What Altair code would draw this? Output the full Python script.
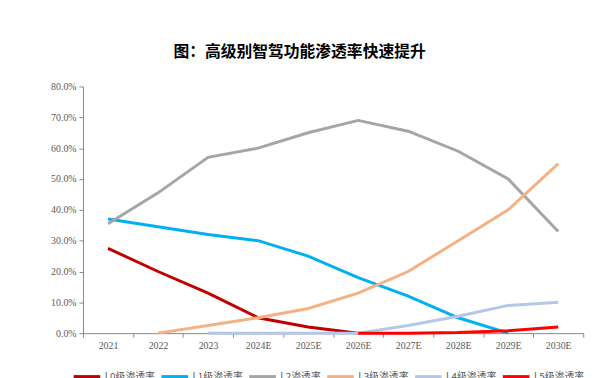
import altair as alt
import pandas as pd

years = ["2021", "2022", "2023", "2024E", "2025E", "2026E", "2027E", "2028E", "2029E", "2030E"]
series = ["L0级渗透率", "L1级渗透率", "L2渗透率", "L3级渗透率", "L4级渗透率", "L5级渗透率"]
colors = ["#C00000", "#00B0F0", "#A5A5A5", "#F4B183", "#B4C7E7", "#FF0000"]

l0 = [27.5, 20.0, 13.0, 5.0, 2.0, 0.0, None, None, None, None]
l1 = [37.0, 34.5, 32.0, 30.0, 25.0, 18.0, 12.0, 5.0, 0.0, None]
l2 = [35.5, 45.5, 57.0, 60.0, 65.0, 69.0, 65.5, 59.0, 50.0, 33.0]
l3 = [None, 0.0, 2.5, 5.0, 8.0, 13.0, 20.0, 30.0, 40.0, 55.0]
l4 = [None, None, 0.0, 0.0, 0.0, 0.0, 2.5, 5.5, 9.0, 10.0]
l5 = [None, None, None, None, None, 0.0, 0.0, 0.2, 0.8, 2.0]

rows = []
for name, vals in zip(series, [l0, l1, l2, l3, l4, l5]):
    for i, (y, v) in enumerate(zip(years, vals)):
        if v is not None:
            rows.append({"year": y, "series": name, "value": v / 100.0, "order": series.index(name)})
df = pd.DataFrame(rows)

chart = alt.Chart(df).mark_line(strokeWidth=3).encode(
    x=alt.X("year:O", sort=years, title=None,
            scale=alt.Scale(type="band", paddingInner=0, paddingOuter=0),
            axis=alt.Axis(labelAngle=0, tickBand="extent", tickSize=4, domainColor="#868686",
                          tickColor="#868686", labelColor="#595959", labelFont="Liberation Serif",
                          labelFontSize=10, labelPadding=4)),
    y=alt.Y("value:Q", title=None,
            scale=alt.Scale(domain=[0, 0.8], nice=False),
            axis=alt.Axis(format=".1%", values=[0, 0.1, 0.2, 0.3, 0.4, 0.5, 0.6, 0.7, 0.8], grid=False,
                          tickSize=4, domainColor="#868686", tickColor="#868686",
                          labelColor="#595959", labelFont="Liberation Serif", labelFontSize=10,
                          labelPadding=3)),
    color=alt.Color("series:N", scale=alt.Scale(domain=series, range=colors),
                    legend=alt.Legend(title=None, orient="none", legendX=-11, legendY=279,
                                      direction="horizontal", columns=6, symbolType="stroke",
                                      symbolSize=729, symbolStrokeWidth=3, labelFontSize=10,
                                      labelFont="Noto Sans CJK SC", labelColor="#595959",
                                      columnPadding=0, labelOffset=3)),
    order=alt.Order("order:Q"),
    detail="series:N",
).properties(
    width=507, height=250,
    autosize=alt.AutoSizeParams(type="none"),
    padding={"left": 76, "top": 77, "right": 19, "bottom": 50},
    title=alt.TitleParams("图：高级别智驾功能渗透率快速提升", font="Noto Sans CJK SC", fontSize=16,
                          fontWeight="bold", color="#000000", anchor="middle", offset=22, dx=-34),
).configure_view(stroke=None)

chart.save("out.html", embed_options={"renderer": "svg", "actions": False})
